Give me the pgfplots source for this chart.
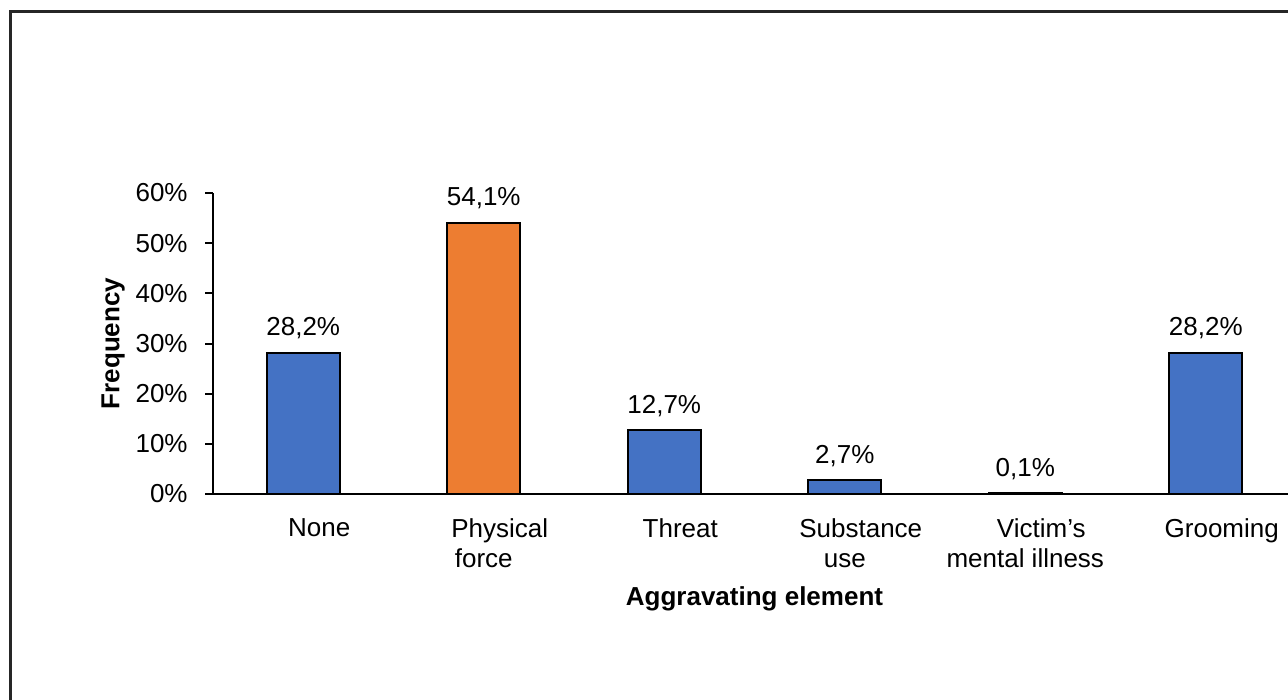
\documentclass[border=0pt]{standalone}
\usepackage{fontspec}
\setmainfont{Liberation Sans}
\usepackage{pgfplots}
\pgfplotsset{compat=1.18}
\definecolor{barblue}{HTML}{4472C4}
\definecolor{barorange}{HTML}{ED7D31}
\begin{document}
\begin{tikzpicture}[font=\fontsize{13}{15}\selectfont]
\path[use as bounding box] (0,0) rectangle (644pt,350pt);
\clip (0,0) rectangle (644pt,350pt);
\draw[line width=1.3pt, black!85] (5.25pt,-20pt) rectangle (700pt,344.25pt);
\begin{axis}[
  at={(106.5pt,103pt)}, anchor=south west,
  scale only axis, width=541.5pt, height=150.5pt,
  xmin=-0.5, xmax=5.5, ymin=0, ymax=60,
  axis x line=bottom, axis y line=left,
  axis line style={-, line width=1pt, black},
  clip=false,
  ytick={0,10,...,60},
  yticklabel={\pgfmathprintnumber{\tick}\%},
  /pgf/number format/assume math mode=true,
  xtick={0,...,5},
  xticklabels={{\hspace*{16pt}None},{\hspace*{16pt}Physical\\force},{\hspace*{16pt}Threat},{\hspace*{16pt}Substance\\use},{\hspace*{16pt}Victim’s\\mental illness},{\hspace*{16pt}Grooming}},
  major x tick style={draw=none},
  major y tick style={line width=1pt, black},
  major tick length=4pt, tick align=outside,
  yticklabel style={anchor=east, inner sep=0pt, xshift=-8.5pt, font=\fontsize{13}{15}\selectfont},
  xticklabel style={anchor=north, inner sep=0pt, yshift=-8pt, align=center, font=\fontsize{13}{15}\selectfont},
  xlabel={\bfseries Aggravating element},
  xlabel style={at={(axis description cs:0.5,-0.3688)}, anchor=base, inner sep=0pt, font=\fontsize{13}{15}\selectfont},
  ylabel={\bfseries Frequency},
  ylabel style={at={(axis description cs:-0.0923,0.5)}, anchor=center, inner sep=0pt, font=\fontsize{13}{15}\selectfont},
  ybar, bar width=36.5pt, bar shift=0pt,
  nodes near coords, point meta=explicit symbolic,
  nodes near coords style={anchor=base, yshift=8.5pt, black, font=\fontsize{13}{15}\selectfont},
]
\addplot[fill=barblue, draw=black, line width=1pt] coordinates {
  (0,28.2) [28,2\%]
  (2,12.7) [12,7\%]
  (3,2.7) [2,7\%]
  (4,0.1) [0,1\%]
  (5,28.2) [28,2\%]
};
\addplot[fill=barorange, draw=black, line width=1pt] coordinates {
  (1,54.1) [54,1\%]
};
\end{axis}
\end{tikzpicture}
\end{document}
